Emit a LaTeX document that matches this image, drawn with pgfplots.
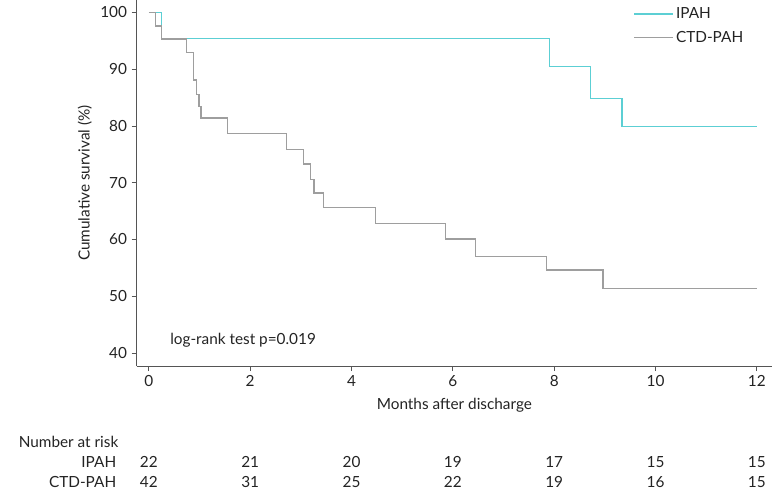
\documentclass[border=0pt]{standalone}
\usepackage{fontspec}
\setmainfont{Lato}
\usepackage{pgfplots}
\pgfplotsset{compat=1.18}
\definecolor{ipah}{RGB}{92,207,212}
\definecolor{ctd}{RGB}{158,158,158}
\definecolor{axisgray}{RGB}{85,85,85}
\definecolor{txt}{RGB}{35,35,35}
\newcommand{\fs}{\fontsize{11.5}{13}\selectfont}
\begin{document}
\begin{tikzpicture}
\useasboundingbox (-102.5pt,-96pt) rectangle (477.2pt,274.5pt);
\begin{axis}[
    scale only axis,
    width=476.5pt, height=274.5pt,
    xmin=-0.24, xmax=12.30,
    ymin=37.7, ymax=102.2,
    axis x line*=bottom, axis y line*=left,
    axis line style={axisgray, line width=0.8pt},
    xtick={0,2,...,12}, ytick={40,50,...,100},
    tick align=outside,
    major tick length=3.75pt,
    tick style={axisgray, line width=0.7pt},
    /pgf/number format/assume math mode=true,
    tick label style={font=\fs, text=txt},
    xlabel={Months after discharge},
    ylabel={Cumulative survival (\%)},
    label style={font=\fs, text=txt},
    xlabel style={at={(axis description cs:0.5,-0.1074)}, anchor=center},
    ylabel style={at={(axis description cs:-0.0817,0.5)}, anchor=center},
    clip=false,
    legend style={draw=none, fill=none, font=\fs, text=txt,
        at={(axis description cs:0.775,0.995)}, anchor=north west,
        cells={anchor=west}, row sep=4pt},
    legend image code/.code={\draw[#1] (0pt,0pt) -- (29pt,0pt);},
]
\addplot[ipah, line width=1pt, const plot] coordinates {
    (0,100) (0.25,95.45) (7.91,90.5) (8.72,84.9) (9.34,79.9) (12,79.9)};
\addlegendentry{IPAH}
\addplot[ctd, line width=1pt, const plot] coordinates {
    (0,100) (0.13,97.6) (0.25,95.3) (0.74,93.0) (0.875,88.1) (0.94,85.6)
    (0.99,83.4) (1.03,81.4) (1.55,78.7) (2.72,75.9) (3.05,73.3) (3.19,70.6)
    (3.26,68.2) (3.45,65.6) (4.47,62.8) (5.86,60.1) (6.45,57.0) (7.85,54.6)
    (8.96,51.4) (12,51.4)};
\addlegendentry{CTD-PAH}
\node[anchor=west, font=\fs, text=txt] at (axis cs:0.33,42.2) {log-rank test p=0.019};
% number at risk table
\node[anchor=west, font=\fs, text=txt] at (axis cs:-2.66,24.35) {Number at risk};
\node[anchor=east, font=\fs, text=txt] at (axis cs:-0.55,20.83) {IPAH};
\node[anchor=east, font=\fs, text=txt] at (axis cs:-0.55,17.3) {CTD-PAH};
\node[font=\fs, text=txt] at (axis cs:0,20.83) {22};
\node[font=\fs, text=txt] at (axis cs:2,20.83) {21};
\node[font=\fs, text=txt] at (axis cs:4,20.83) {20};
\node[font=\fs, text=txt] at (axis cs:6,20.83) {19};
\node[font=\fs, text=txt] at (axis cs:8,20.83) {17};
\node[font=\fs, text=txt] at (axis cs:10,20.83) {15};
\node[font=\fs, text=txt] at (axis cs:12,20.83) {15};
\node[font=\fs, text=txt] at (axis cs:0,17.3) {42};
\node[font=\fs, text=txt] at (axis cs:2,17.3) {31};
\node[font=\fs, text=txt] at (axis cs:4,17.3) {25};
\node[font=\fs, text=txt] at (axis cs:6,17.3) {22};
\node[font=\fs, text=txt] at (axis cs:8,17.3) {19};
\node[font=\fs, text=txt] at (axis cs:10,17.3) {16};
\node[font=\fs, text=txt] at (axis cs:12,17.3) {15};
\end{axis}
\end{tikzpicture}
\end{document}
